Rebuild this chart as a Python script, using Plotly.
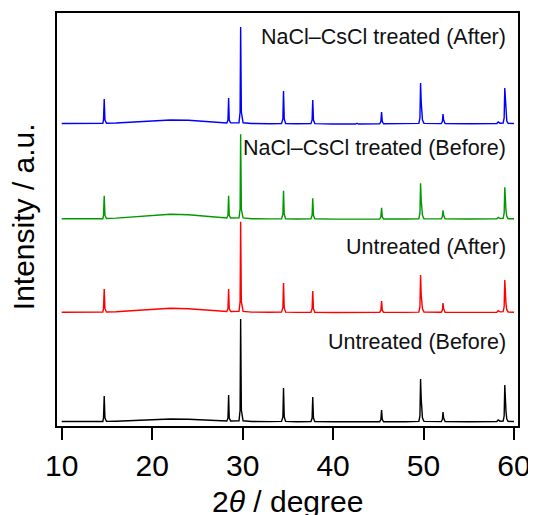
import plotly.graph_objects as go

# 2theta grid (degrees), shared by all patterns
two_theta = [10, 12, 14, 14.55, 14.62, 14.7, 14.78, 14.95, 16, 18, 20, 22, 24, 26, 27.5,
             28.25, 28.38, 28.45, 28.52, 28.67, 29.6, 29.72, 29.78, 29.86, 30.05, 31, 33,
             34.3, 34.45, 34.52, 34.6, 34.75, 36, 37.55, 37.68, 37.75, 37.83, 37.98, 40, 42.5, 42.65, 42.8,
             45.15, 45.28, 45.36, 45.44, 45.58, 48, 49.48, 49.6, 49.67, 49.74, 49.8, 49.88, 50.05, 51,
             51.95, 52.08, 52.15, 52.22, 52.38, 55, 58.1, 58.25, 58.45, 58.8, 58.91, 58.98, 59.05, 59.11, 59.2, 59.35, 60]

untreated_before = [0.5, 0.3, 0.3, 0.5, 4, 26, 4, 0.6, 0.8, 1.6, 2.5, 3.0, 2.8, 1.8, 1.0,
                    1.0, 4, 27, 4, 1.0, 1.2, 12, 103, 12, 1.2, 0.5, 0.4,
                    0.6, 5, 34, 5, 0.6, 0.3, 0.5, 4, 25, 4, 0.5, 0.2, 0.2, 0.8, 0.2,
                    0.3, 2.5, 12, 2.5, 0.3, 0.3, 0.6, 6, 43, 23, 14, 4, 0.6, 0.4,
                    0.4, 2.5, 10, 4, 0.4, 0.3, 0.5, 2, 0.8, 1, 6, 37, 19, 11, 3, 0.6, 0.5]

untreated_after = [0.5, 0.4, 0.4, 0.6, 4, 23.7, 4, 0.7, 1.0, 2.2, 3.6, 4.4, 4.0, 2.6, 1.3,
                   1.2, 4, 23.7, 4, 1.2, 1.3, 11, 91, 11, 1.3, 0.6, 0.4,
                   0.6, 5, 29.7, 5, 0.6, 0.3, 0.5, 4, 21.7, 4, 0.5, 0.2, 0.2, 0.8, 0.2,
                   0.3, 2.5, 11.7, 2.5, 0.3, 0.3, 0.6, 6, 37.7, 17.7, 11, 4, 0.6, 0.4,
                   0.4, 2.5, 9.7, 4, 0.4, 0.3, 0.5, 2, 0.8, 1, 6, 32.7, 16, 9, 3, 0.6, 0.5]

treated_before = [0.5, 0.4, 0.4, 0.6, 4, 23.6, 4, 0.8, 1.2, 2.6, 4.0, 5.0, 4.6, 3.0, 1.5,
                  1.3, 4, 23.6, 4, 1.3, 1.4, 10, 85, 10, 1.4, 0.6, 0.4,
                  0.6, 5, 28.6, 5, 0.6, 0.3, 0.5, 4, 21, 4, 0.5, 0.2, 0.2, 0.8, 0.2,
                  0.3, 2.5, 11.6, 2.5, 0.3, 0.3, 0.6, 6, 36, 19, 11, 4, 0.6, 0.4,
                  0.4, 2.5, 9, 4, 0.4, 0.3, 0.5, 2, 0.8, 1, 6, 32, 16, 9, 3, 0.6, 0.5]

treated_after = [0.5, 0.4, 0.4, 0.6, 4, 25, 4, 0.7, 1.0, 2.0, 3.3, 4.0, 3.7, 2.4, 1.2,
                 1.1, 4, 26, 4, 1.1, 1.2, 12, 97, 12, 1.2, 0.5, 0.3,
                 0.5, 5, 33, 5, 0.5, 0.2, 0.4, 4, 24, 4, 0.4, 0.0, 0.0, 0.8, 0.0,
                 0.2, 2.5, 12, 2.5, 0.2, 0.2, 0.6, 6, 41, 22, 13, 4, 0.6, 0.4,
                 0.4, 2.5, 10, 4, 0.4, 0.3, 0.5, 2, 0.8, 1, 6, 36, 19, 11, 3, 0.6, 0.5]

series_names = ["Untreated (Before)", "Untreated (After)",
                "NaCl–CsCl treated (Before)", "NaCl–CsCl treated (After)"]
series_values = [untreated_before, untreated_after, treated_before, treated_after]
series_offsets = [0, 109.3, 202.7, 298]
series_colors = ["#000000", "#ff0000", "#009900", "#0000ff"]
label_y = [80, 175, 274.5, 385]

for v in series_values:
    assert len(v) == len(two_theta)

FONT = "Liberation Sans, Arial, sans-serif"

fig = go.Figure()
for name, vals, off, col in zip(series_names, series_values, series_offsets, series_colors):
    fig.add_trace(go.Scatter(x=two_theta, y=[v + off for v in vals], mode="lines",
                             line=dict(color=col, width=1.4), name=name,
                             showlegend=False))

for name, ly in zip(series_names, label_y):
    fig.add_annotation(x=59.3, y=ly, xref="x", yref="y", text=name, showarrow=False,
                       xanchor="right", yanchor="middle",
                       font=dict(family=FONT, size=21.5, color="#111111"))

# axis titles
fig.add_annotation(x=0.5, y=-0.1816, xref="paper", yref="paper", text="2<i>θ</i> / degree",
                   showarrow=False, xanchor="center", yanchor="middle",
                   font=dict(family=FONT, size=30, color="black"))
fig.add_annotation(x=-0.0738, y=0.508, xref="paper", yref="paper", text="Intensity / a.u.",
                   showarrow=False, xanchor="center", yanchor="middle", textangle=-90,
                   font=dict(family=FONT, size=30, color="black"))

# page body has an 8px default margin: figure is sized so the plot lands where it should
fig.update_layout(
    width=528, height=507,
    margin=dict(l=49, r=18, t=5, b=89),
    paper_bgcolor="white", plot_bgcolor="white",
    font=dict(family=FONT, color="black"),
)
fig.update_xaxes(range=[9.48, 60.44], tickvals=[10, 20, 30, 40, 50, 60],
                 ticks="outside", ticklen=12, tickwidth=2, tickcolor="black",
                 tickfont=dict(size=30, family=FONT, color="black"),
                 showline=True, linewidth=2, linecolor="black", mirror=True,
                 showgrid=False, zeroline=False, automargin=False)
fig.update_yaxes(range=[-4, 409], showticklabels=False, ticks="",
                 showline=True, linewidth=2, linecolor="black", mirror=True,
                 showgrid=False, zeroline=False, automargin=False)

fig.write_html("out.html")
